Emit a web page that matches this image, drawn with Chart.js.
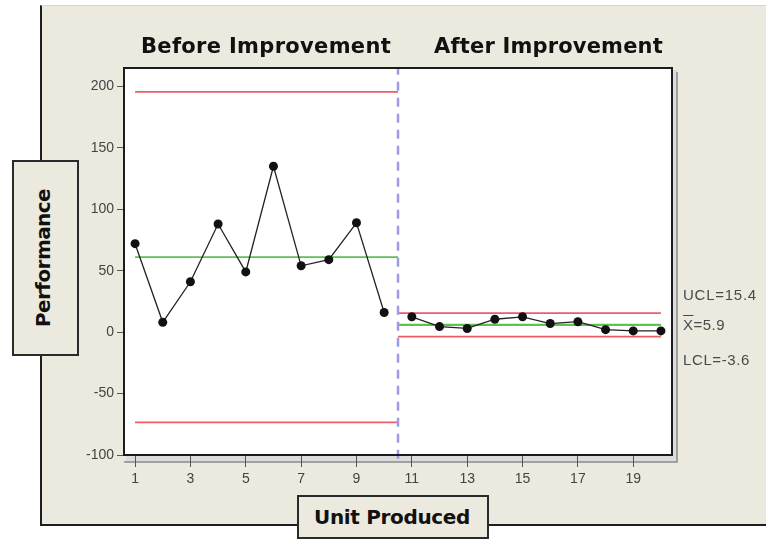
<!DOCTYPE html>
<html>
<head>
<meta charset="utf-8">
<script src="https://cdn.jsdelivr.net/npm/chart.js@4.4.1/dist/chart.umd.min.js"></script>
<style>
  html, body { margin:0; padding:0; background:#ffffff; }
  #wrap { position:relative; width:766px; height:540px; overflow:hidden; background:#ffffff; }
  #panel { position:absolute; left:40px; top:5px; width:740px; height:518px; background:#ECE9DF;
           border-left:2px solid #1e1e1e; border-bottom:2px solid #1e1e1e; border-top:1px solid #d8d5cc; }
  canvas { position:absolute; left:0; top:0; }
  .t { position:absolute; white-space:nowrap; line-height:1; }
  .title { font-family:"DejaVu Sans", sans-serif; font-weight:bold; font-size:21px; color:#111; }
  .box { position:absolute; background:#ECE9DF; border:2px solid #2a2a2a; box-sizing:border-box; }
  .lim { font-family:"Liberation Sans", Arial, sans-serif; font-size:15px; color:#4a4a4a; }
  .ov { text-decoration:overline; }
</style>
</head>
<body>
<div id="wrap">
  <div id="panel"></div>
  <canvas id="c" width="766" height="540"></canvas>
  <div class="t title" id="tBefore" data-w="250" style="left:141px; top:36px;">Before Improvement</div>
  <div class="t title" id="tAfter" data-w="229" style="left:434px; top:36px;">After Improvement</div>
  <div class="box" style="left:12px; top:160px; width:67px; height:196px;"></div>
  <div class="t title" id="tPerf" data-w="138" data-rot="1" data-cx="43" data-cy="258" style="font-size:20px;">Performance</div>
  <div class="box" style="left:297px; top:495px; width:192px; height:44px;"></div>
  <div class="t title" id="tUnit" data-w="156" style="left:314px; top:507px; font-size:20px;">Unit Produced</div>
  <div class="t lim" data-w="74" style="left:683px; top:287px;">UCL=15.4</div>
  <div class="t lim" data-w="42" style="left:683px; top:317px;"><span class="ov">X</span>=5.9</div>
  <div class="t lim" data-w="67" style="left:683px; top:352px;">LCL=-3.6</div>
</div>
<script>
// ---- data ----
const beforeUnits  = [1, 2, 3, 4, 5, 6, 7, 8, 9, 10];
const beforeValues = [72, 8, 41, 88, 49, 135, 54, 59, 89, 16];
const afterUnits   = [11, 12, 13, 14, 15, 16, 17, 18, 19, 20];
const afterValues  = [12.5, 4.5, 3, 10.5, 12.5, 7, 8.5, 2, 1, 1];
const limitNames   = ['UCL', 'CL', 'LCL'];
const beforeLimits = [195.6, 61.1, -73.4];
const afterLimits  = [15.4, 5.9, -3.6];
const beforeSpan   = [1, 10.5];
const afterSpan    = [10.5, 20];
const phaseBoundary = 10.5;
const xTicks = [1, 3, 5, 7, 9, 11, 13, 15, 17, 19];
const yTicks = [-100, -50, 0, 50, 100, 150, 200];
const xRange = [0.6, 20.4];
const yRange = [-100, 215];

// ---- fit text widths ----
document.querySelectorAll('[data-w]').forEach(el => {
  const target = +el.dataset.w;
  const nat = el.getBoundingClientRect().width;
  const n = el.textContent.length;
  const ls = (target - nat) / n;
  el.style.letterSpacing = ls.toFixed(2) + 'px';
  if (el.dataset.rot) {
    const w = el.offsetWidth, h = el.offsetHeight;
    el.style.left = (+el.dataset.cx - w / 2) + 'px';
    el.style.top = (+el.dataset.cy - h / 2) + 'px';
    el.style.transform = 'rotate(-90deg)';
  }
});

const RED = '#EE5C66', GREEN = '#5DC24F';
function pts(xs, ys) { return xs.map((x, i) => ({x: x, y: ys[i]})); }
function hline(span, v) { return [{x: span[0], y: v}, {x: span[1], y: v}]; }

const datasets = [];
datasets.push({data: pts(beforeUnits, beforeValues), borderColor:'#222', borderWidth:1.3,
  pointRadius:4.5, pointBackgroundColor:'#111', pointBorderColor:'#111', pointBorderWidth:0});
datasets.push({data: pts(afterUnits, afterValues), borderColor:'#222', borderWidth:1.3,
  pointRadius:4.5, pointBackgroundColor:'#111', pointBorderColor:'#111', pointBorderWidth:0});
datasets.push({data: [{x: phaseBoundary, y: yRange[0] - 3}, {x: phaseBoundary, y: yRange[1]}],
  borderColor:'#9C9CE4', borderWidth:2.5, borderDash:[9, 7], pointRadius:0, clip:false});
limitNames.forEach((name, i) => {
  const col = name === 'CL' ? GREEN : RED;
  datasets.push({data: hline(beforeSpan, beforeLimits[i]), borderColor: col, borderWidth:1.8, pointRadius:0});
  datasets.push({data: hline(afterSpan, afterLimits[i]), borderColor: col, borderWidth: name === 'CL' ? 2.2 : 1.8, pointRadius:0});
});

const framePlugin = {
  id:'frame',
  beforeDraw(chart) {
    const {ctx, chartArea:a} = chart;
    ctx.save();
    ctx.fillStyle = '#dcdcdc';
    ctx.fillRect(a.left + 2, a.top + 2, a.width + 3, a.height + 5);
    ctx.strokeStyle = '#8a8a8a';
    ctx.lineWidth = 1.5;
    ctx.beginPath();
    ctx.moveTo(a.right + 5, a.top + 4);
    ctx.lineTo(a.right + 5, a.bottom + 7);
    ctx.lineTo(a.left, a.bottom + 7);
    ctx.stroke();
    ctx.fillStyle = '#ffffff';
    ctx.fillRect(a.left, a.top, a.width, a.height);
    ctx.restore();
  },
  afterDraw(chart) {
    const {ctx, chartArea:a} = chart;
    ctx.save();
    ctx.strokeStyle = '#1c1c1c';
    ctx.lineWidth = 2;
    ctx.strokeRect(a.left, a.top, a.width, a.height);
    ctx.restore();
  }
};

new Chart(document.getElementById('c'), {
  type:'line',
  data:{datasets: datasets},
  plugins:[framePlugin],
  options:{
    responsive:false, animation:false, devicePixelRatio:1,
    layout:{padding:{left:44, right:94, top:68, bottom:0}},
    plugins:{legend:{display:false}, tooltip:{enabled:false}},
    elements:{line:{tension:0}},
    scales:{
      x:{type:'linear', min:xRange[0], max:xRange[1],
        afterFit(s){ s.height = 85; },
        afterBuildTicks(s){ s.ticks = xTicks.map(v => ({value:v})); },
        border:{display:false},
        grid:{display:true, drawOnChartArea:false, drawTicks:true, tickLength:12, color:'#555', lineWidth:1},
        ticks:{padding:4, color:'#444', font:{family:'"Liberation Sans", Arial', size:14}, maxRotation:0, autoSkip:false,
               callback:(v) => String(v)}
      },
      y:{type:'linear', min:yRange[0], max:yRange[1],
        afterFit(s){ s.width = 80; },
        afterBuildTicks(s){ s.ticks = yTicks.map(v => ({value:v})); },
        border:{display:false},
        grid:{display:true, drawOnChartArea:false, drawTicks:true, tickLength:7, color:'#555', lineWidth:1},
        ticks:{padding:3, color:'#444', font:{family:'"Liberation Sans", Arial', size:14}, autoSkip:false,
               callback:(v) => String(v)}
      }
    }
  }
});
</script>
</body>
</html>
